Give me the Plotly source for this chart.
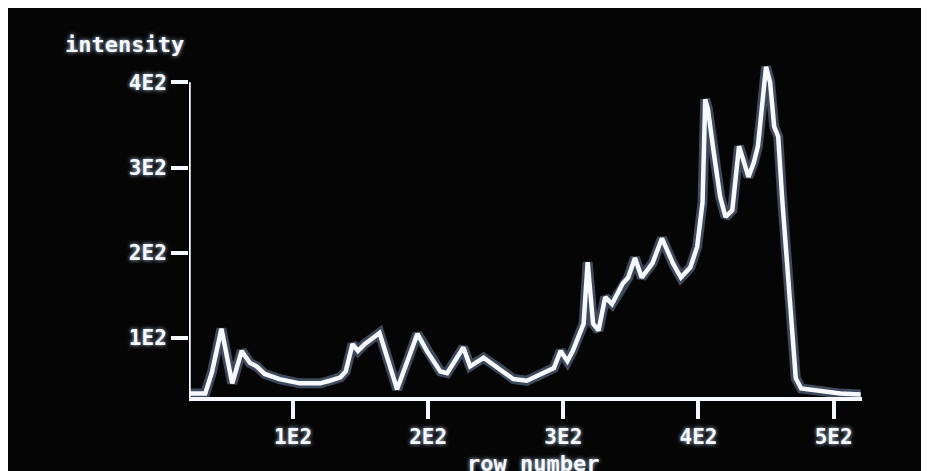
import plotly.graph_objects as go

# Data (row number vs intensity)
row_number = [23, 35, 40, 47, 55, 62, 68, 73, 79, 90, 105, 120, 127, 135, 139,
              144, 148, 153, 164, 177, 192, 199, 209, 214, 226, 231, 241, 253,
              263, 273, 283, 293, 298, 303, 307, 315, 318, 322, 326, 331, 336,
              344, 348, 353, 358, 366, 373, 381, 387, 394, 399, 403, 405, 407,
              411, 416, 420, 425, 430, 433, 437, 441, 444, 450, 453, 456, 459,
              462, 466, 470, 472, 476, 488, 505, 520]
intensity = [35, 35, 60, 111, 47, 85, 71, 67, 58, 52, 47, 47, 50, 54, 61,
             93, 85, 93, 106, 40, 105, 85, 61, 59, 89, 67, 77, 64,
             52, 50, 57, 65, 85, 73, 85, 117, 189, 117, 109, 148, 140,
             164, 171, 194, 171, 188, 217, 188, 171, 183, 207, 259, 380, 368,
             321, 266, 242, 250, 325, 309, 289, 306, 325, 418, 400, 348, 336,
             262, 183, 105, 53, 41, 38, 35, 34]

tick_vals_x = [100, 200, 300, 400, 500]
tick_text_x = ["1E2", "2E2", "3E2", "4E2", "5E2"]
tick_vals_y = [100, 200, 300, 400]
tick_text_y = ["1E2", "2E2", "3E2", "4E2"]

X_RANGE = [23, 521]
Y_RANGE = [31, 426]
Y_AXIS_TOP = 400

FONT = "DejaVu Sans Mono"
INK = "#f6f9ff"
GLOW = "0px 0px 4px rgba(200,225,255,0.9)"

fig = go.Figure()
# soft phosphor glow under the trace
fig.add_trace(go.Scatter(x=row_number, y=intensity, mode="lines",
                         line=dict(color="rgba(170,200,255,0.35)", width=10),
                         hoverinfo="skip", showlegend=False))
fig.add_trace(go.Scatter(x=row_number, y=intensity, mode="lines",
                         line=dict(color=INK, width=4.5),
                         showlegend=False))

# the page's own 8px body margin offsets the figure inside the window
OFF = 8
W, H = 940, 482
L = 189 - OFF
T = 60 - OFF
R = W - (862 - OFF)
B = H - (397 - OFF)
pw, ph = W - L - R, H - T - B

def px_x(px):
    return (px - OFF - L) / pw

def px_y(py):
    return 1 - (py - OFF - T) / ph

shapes = [
    # y axis line, ending at the 4E2 tick
    dict(type="line", xref="x", yref="y", x0=X_RANGE[0], x1=X_RANGE[0],
         y0=Y_RANGE[0], y1=Y_AXIS_TOP, line=dict(color=INK, width=3.5)),
]

annotations = [
    dict(text="intensity", xref="paper", yref="paper", x=px_x(186), y=px_y(45),
         xanchor="right", yanchor="middle", showarrow=False,
         font=dict(family=FONT, size=22, color=INK, weight="bold", shadow=GLOW)),
    dict(text="row number", xref="paper", yref="paper", x=px_x(533), y=px_y(449),
         xanchor="center", yanchor="top", showarrow=False,
         font=dict(family=FONT, size=22, color=INK, weight="bold", shadow=GLOW)),
]

fig.update_layout(
    width=W, height=H, autosize=False,
    margin=dict(l=L, r=R, t=T, b=B),
    paper_bgcolor="#050505", plot_bgcolor="#050505",
    shapes=shapes, annotations=annotations,
    xaxis=dict(range=X_RANGE, showgrid=False, zeroline=False,
               showline=True, linecolor=INK, linewidth=3.5,
               ticks="outside", ticklen=18, tickwidth=3.5, tickcolor=INK,
               tickvals=tick_vals_x, ticktext=tick_text_x,
               tickfont=dict(family=FONT, size=21, color=INK, weight="bold", shadow=GLOW)),
    yaxis=dict(range=Y_RANGE, showgrid=False, zeroline=False, showline=False,
               ticks="outside", ticklen=17, tickwidth=3.5, tickcolor=INK,
               tickvals=tick_vals_y, ticktext=tick_text_y,
               tickfont=dict(family=FONT, size=21, color=INK, weight="bold", shadow=GLOW)),
)

fig.write_html("out.html", config={"responsive": False})
